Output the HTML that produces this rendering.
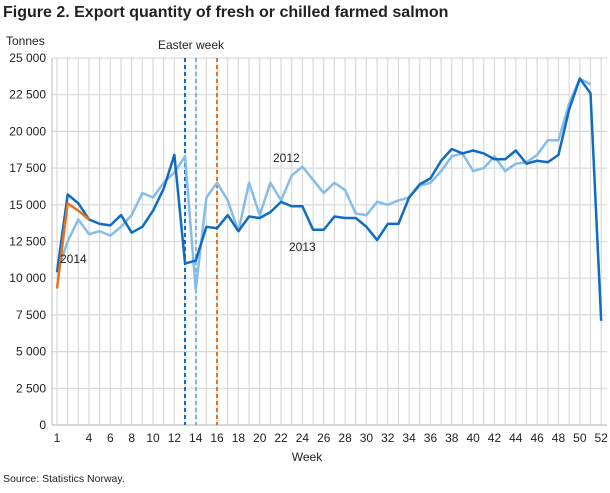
<!DOCTYPE html>
<html><head><meta charset="utf-8"><style>
body{margin:0;background:#fff;font-family:"Liberation Sans",sans-serif;}
</style></head><body>
<svg width="610" height="488" xmlns="http://www.w3.org/2000/svg" font-family="Liberation Sans, sans-serif">
<text x="3" y="17" font-size="16" font-weight="bold" fill="#222">Figure 2. Export quantity of fresh or chilled farmed salmon</text>
<text x="6" y="45" font-size="12" fill="#222">Tonnes</text>
<text x="158" y="49" font-size="12" fill="#222">Easter week</text>
<g id="grid" stroke="#d9d9d9" stroke-width="1.2"></g>
<g id="yl" font-size="12" fill="#222" text-anchor="end"></g>
<g id="xl" font-size="12" fill="#222" text-anchor="middle"></g>
<line x1="52" y1="58" x2="52" y2="425" stroke="#bbb"/>
<line x1="52" y1="425" x2="607" y2="425" stroke="#bbb"/>
<line x1="185" y1="58" x2="185" y2="425" stroke="#0a6ed1" stroke-width="2" stroke-dasharray="4,3"/>
<line x1="196" y1="58" x2="196" y2="425" stroke="#7ab8e8" stroke-width="2" stroke-dasharray="4,3"/>
<line x1="217" y1="58" x2="217" y2="425" stroke="#e8731f" stroke-width="2" stroke-dasharray="4,3"/>
<polyline id="s12" fill="none" stroke="#86bce8" stroke-width="2.5" stroke-linejoin="round"/>
<polyline id="s13" fill="none" stroke="#0f6cc2" stroke-width="2.5" stroke-linejoin="round"/>
<polyline id="s14" fill="none" stroke="#e8731f" stroke-width="2.5" stroke-linejoin="round"/>
<text x="273" y="162" font-size="12" fill="#222">2012</text>
<text x="289" y="251" font-size="12" fill="#222">2013</text>
<text x="60" y="263" font-size="12" fill="#222">2014</text>
<text x="307" y="461" font-size="12" fill="#222" text-anchor="middle">Week</text>
<text x="3" y="482" font-size="10.5" fill="#222">Source: Statistics Norway.</text>
</svg>
<script>
var X=w=>57+(w-1)*10.67, Y=v=>425-v*0.01468, ns="http://www.w3.org/2000/svg";
var g=document.getElementById('grid');
function ln(x1,y1,x2,y2){var l=document.createElementNS(ns,'line');l.setAttribute('x1',x1);l.setAttribute('y1',y1);l.setAttribute('x2',x2);l.setAttribute('y2',y2);g.appendChild(l);}
for(var w=1;w<=52;w++)ln(X(w),58,X(w),425);
var yl=document.getElementById('yl');
for(var i=0;i<=10;i++){var v=i*2500;ln(52,Y(v),607,Y(v));var t=document.createElementNS(ns,'text');t.setAttribute('x',46);t.setAttribute('y',Y(v)+4);t.textContent=v==0?'0':v.toLocaleString('en').replace(',',' ');yl.appendChild(t);}
var xl=document.getElementById('xl');
[1,4,6,8,10,12,14,16,18,20,22,24,26,28,30,32,34,36,38,40,42,44,46,48,50,52].forEach(w=>{var t=document.createElementNS(ns,'text');t.setAttribute('x',X(w));t.setAttribute('y',442);t.textContent=w;xl.appendChild(t);});
function P(id,d){document.getElementById(id).setAttribute('points',d.map((v,i)=>X(i+1)+','+Y(v)).join(' '));}
P('s12',[10400,12500,14000,13000,13200,12900,13500,14300,15800,15500,16500,17200,18300,9200,15500,16500,15300,13200,16500,14300,16500,15300,17000,17600,16700,15800,16500,16000,14400,14300,15200,15000,15300,15500,16300,16500,17300,18300,18500,17300,17500,18300,17300,17800,17900,18400,19400,19400,21900,23600,23200]);
P('s13',[10400,15700,15100,14000,13700,13600,14300,13100,13500,14600,16100,18400,11000,11200,13500,13400,14300,13200,14200,14100,14500,15200,14900,14900,13300,13300,14200,14100,14100,13500,12600,13700,13700,15500,16400,16800,18000,18800,18500,18700,18500,18100,18100,18700,17800,18000,17900,18400,21500,23600,22600,7100]);
P('s14',[9300,15100,14600,14000]);
</script>
</body></html>
